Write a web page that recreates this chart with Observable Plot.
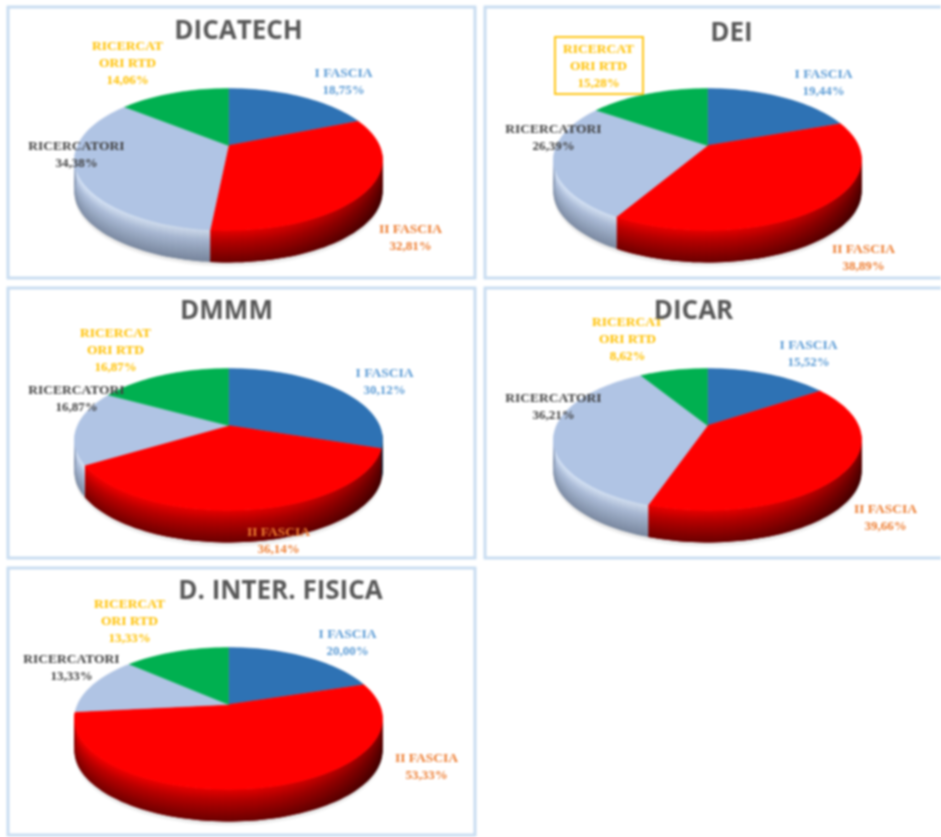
<!DOCTYPE html>
<html>
<head>
<meta charset="utf-8">
<script src="https://cdn.jsdelivr.net/npm/d3@7"></script>
<script src="https://cdn.jsdelivr.net/npm/@observablehq/plot@0.6"></script>
<style>html,body{margin:0;padding:0;background:#fff;overflow:hidden}</style>
</head>
<body>
<div id="chart"></div>
<script>
// ---- data ----
const departments = ["DICATECH", "DEI", "DMMM", "DICAR", "D. INTER. FISICA"];
const categories = ["I FASCIA", "II FASCIA", "RICERCATORI", "RICERCATORI RTD"];
const valDicatech = [18.75, 32.81, 34.38, 14.06];
const valDei = [19.44, 38.89, 26.39, 15.28];
const valDmmm = [30.12, 36.14, 16.87, 16.87];
const valDicar = [15.52, 39.66, 36.21, 8.62];
const valFisica = [20.00, 53.33, 13.33, 13.33];
const seriesValues = [valDicatech, valDei, valDmmm, valDicar, valFisica];
const percentLabels = [
  ["18,75%", "32,81%", "34,38%", "14,06%"],
  ["19,44%", "38,89%", "26,39%", "15,28%"],
  ["30,12%", "36,14%", "16,87%", "16,87%"],
  ["15,52%", "39,66%", "36,21%", "8,62%"],
  ["20,00%", "53,33%", "13,33%", "13,33%"]
];

// ---- layout (page pixels, separate from the data) ----
const W = 941, H = 837;
const pieCx = [228, 707, 228, 707, 228];
const pieCy = [145, 145, 425, 425, 704];
const frames = [[8, 7, 475, 278], [485, 7, 946, 278], [8, 288, 475, 558], [485, 288, 946, 558], [8, 568, 475, 835]];
const titlePos = [[238, 30], [731, 32], [226, 310], [693, 310], [280, 590]];
// label anchor (centre x, first line y) per dept, per category
const labelPos = [
  [[343, 72], [410, 228], [76, 145], [127, 45]],
  [[823, 73], [863, 248], [553, 128], [598, 48]],
  [[384, 372], [278, 531], [76, 389], [115, 332]],
  [[808, 344], [885, 508], [553, 397], [627, 321]],
  [[347, 633], [426, 757], [71, 658], [129, 603]]
];
const lineGap = 17;
const faceColors = ["#2e72b4", "#ff0000", "#b0c4e4", "#00b050"];
const textColors = ["#5b9bd5", "#ed7d31", "#404040", "#ffc000"];
const wallStops = {
  1: ["#f80000", "#c00000", "#740000"],
  2: ["#dce9fb", "#aebfdb", "#7f8ea6"],
  0: ["#2e72b4", "#1f5488", "#143a60"],
  3: ["#00b050", "#008a3e", "#00602b"]
};

// ---- perspective projection of the pie disc ----
const k = 0.197, a = 151, b = 68.2, depth = 32, bands = 14, stepDeg = 2;
const project = (cx, cy, ang) => {
  const u = Math.sin(ang), v = -Math.cos(ang), d = 1 - k * v;
  return [cx + a * u / d, cy + b * v / d, u, v];
};
const polys = [];   // wall polygons
const faces = [];   // top faces
const shadows = [];
const wallColor = (cat, t, u) => {
  const st = wallStops[cat];
  const c = d3.rgb(t < 0.35 ? d3.interpolateRgb(st[0], st[1])(t / 0.35) : d3.interpolateRgb(st[1], st[2])((t - 0.35) / 0.65));
  const f = u < 0.15 ? 1 - 0.08 * (u + 1) : 0.9 - 0.42 * Math.pow((u - 0.15) / 0.85, 1.5);
  return d3.rgb(c.r * f, c.g * f, c.b * f).formatHex();
};
let pid = 0;
seriesValues.forEach((vals, p) => {
  const cx = pieCx[p], cy = pieCy[p];
  const arcs = d3.pie().sort(null)(vals);
  // soft shadow below the disc
  [[4, "#f0f0f0"], [2, "#e4e4e4"]].forEach(([off, col]) => {
    const id = "s" + (pid++);
    d3.range(0, 361, 4).forEach(deg => {
      const q = project(cx, cy, deg * Math.PI / 180);
      shadows.push({x: q[0], y: q[1] + depth + off, id, fill: col});
    });
  });
  arcs.forEach((arc, c) => {
    const n = Math.max(2, Math.ceil((arc.endAngle - arc.startAngle) / (stepDeg * Math.PI / 180)));
    const angs = d3.range(n + 1).map(i => arc.startAngle + (arc.endAngle - arc.startAngle) * i / n);
    // wall: columns along the front rim; each overlaps the next so no seams show
    for (let i = 0; i < n; i++) {
      const q0 = project(cx, cy, angs[i]), q1 = project(cx, cy, angs[i + 1]);
      const q2 = project(cx, cy, angs[Math.min(i + 2, n)]);
      if (q0[3] < k - 0.06 && q1[3] < k - 0.06) continue;
      const col = wallColor;
      for (let j = bands - 1; j >= 0; j--) {
        const t0 = Math.max(0, (j - 1) / bands), t1 = (j + 1) / bands;
        const id = "w" + (pid++);
        const fill = col(c, (j + 0.5) / bands, (q0[2] + q1[2]) / 2);
        const pts = [[q0, t0], [q1, t0], [q2, t0], [q2, t1], [q1, t1], [q0, t1], [q0, t0]];
        pts.forEach(([q, t]) => polys.push({x: q[0], y: q[1] + depth * t, id, fill}));
      }
    }
    // top face
    const id = "f" + (pid++);
    faces.push({x: cx, y: cy, id, fill: faceColors[c]});
    angs.forEach(an => {
      const q = project(cx, cy, an);
      faces.push({x: q[0], y: q[1], id, fill: faceColors[c]});
    });
    faces.push({x: cx, y: cy, id, fill: faceColors[c]});
  });
});

// ---- text rows ----
const labelRows = [];
const pctRows = [];
departments.forEach((dep, p) => {
  categories.forEach((cat, c) => {
    const [lx, ly] = labelPos[p][c];
    const lines = c === 3 ? ["RICERCAT", "ORI RTD"] : [cat];
    lines.forEach((t, i) => labelRows.push({x: lx, y: ly + i * lineGap, t, col: textColors[c]}));
    pctRows.push({x: lx, y: ly + lines.length * lineGap, t: percentLabels[p][c], col: textColors[c]});
  });
});
const titleRows = departments.map((t, p) => ({t, x: titlePos[p][0], y: titlePos[p][1]}));
const frameRows = frames.map(f => ({x1: f[0], y1: f[1], x2: f[2], y2: f[3]}));
const rtdBox = [{x1: 555, y1: 37, x2: 643, y2: 94}];

const serif = "Liberation Serif";
const chart = Plot.plot({
  width: W, height: H,
  margin: 0,
  x: {domain: [0, W], range: [0, W], axis: null},
  y: {domain: [0, H], range: [0, H], axis: null},
  color: {type: "identity"},
  style: {background: "#fff", filter: "blur(0.9px)"},
  marks: [
    Plot.rect(frameRows, {x1: "x1", x2: "x2", y1: "y1", y2: "y2", fill: "#fff", stroke: "#c9ddf1", strokeWidth: 3}),
    Plot.line(shadows, {x: "x", y: "y", z: "id", fill: "fill", stroke: "none"}),
    Plot.line(polys, {x: "x", y: "y", z: "id", fill: "fill", stroke: "none"}),
    Plot.line(faces, {x: "x", y: "y", z: "id", fill: "fill", stroke: "fill", strokeWidth: 0.5}),
    Plot.rect(rtdBox, {x1: "x1", x2: "x2", y1: "y1", y2: "y2", fill: "none", stroke: "#ffc000", strokeWidth: 1.8}),
    Plot.text(labelRows, {x: "x", y: "y", text: "t", fill: "col", fontFamily: serif, fontWeight: "bold", fontSize: 13.5, textAnchor: "middle", lineAnchor: "middle"}),
    Plot.text(pctRows, {x: "x", y: "y", text: "t", fill: "col", fontFamily: serif, fontWeight: "bold", fontSize: 13, textAnchor: "middle", lineAnchor: "middle"}),
    Plot.text(titleRows, {x: "x", y: "y", text: "t", fill: "#595959", fontFamily: "Open Sans", fontWeight: "bold", fontSize: 26, textAnchor: "middle", lineAnchor: "middle"})
  ]
});
document.getElementById("chart").appendChild(chart);
</script>
</body>
</html>
